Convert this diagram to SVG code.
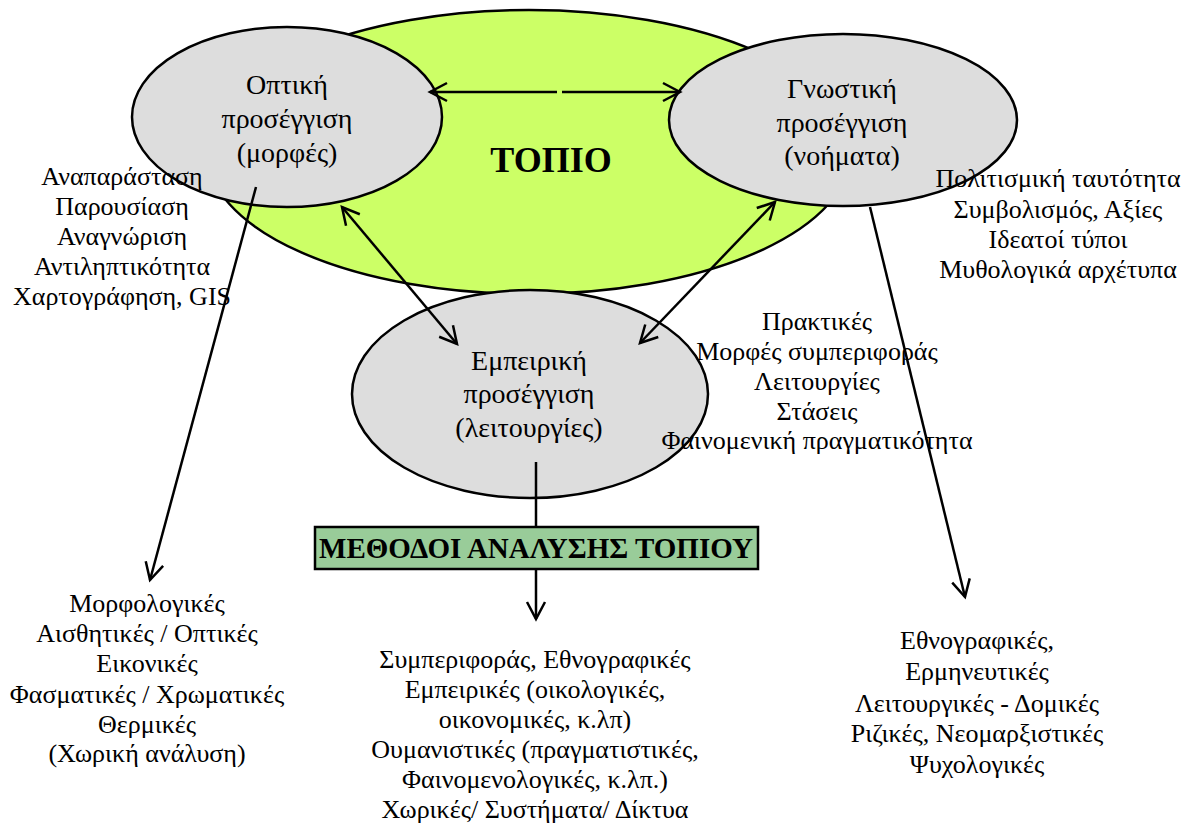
<svg xmlns="http://www.w3.org/2000/svg" width="1199" height="825" viewBox="0 0 1199 825">
<style>
text{font-family:'Liberation Serif','DejaVu Serif',serif;fill:#000;text-anchor:middle}
.t{font-size:28px}
.l{font-size:26px}
.b{font-weight:bold}
.el{fill:#DDDDDD;stroke:#000;stroke-width:2.5}
.c{fill:none;stroke:#000;stroke-width:2.5}
</style>
<defs>
<marker id="ah" markerUnits="userSpaceOnUse" markerWidth="24" markerHeight="24" viewBox="0 0 24 24" refX="20" refY="12" orient="auto-start-reverse">
<path d="M3,3 L20,12 L3,21" fill="none" stroke="#000" stroke-width="2.5"/>
</marker>
</defs>
<g id="topio">
<ellipse cx="529" cy="152" rx="322" ry="142" fill="#CCFF66" stroke="#000" stroke-width="2.5"/>
<text class="b" x="551" y="172" style="font-size:36px">ΤΟΠΙΟ</text>
</g>
<g id="optiki">
<ellipse class="el" cx="287" cy="117" rx="155" ry="90"/>
<text class="t" x="287" y="94">Οπτική</text>
<text class="t" x="287" y="128">προσέγγιση</text>
<text class="t" x="287" y="162">(μορφές)</text>
</g>
<g id="gnostiki">
<ellipse class="el" cx="843" cy="120" rx="174" ry="86"/>
<text class="t" x="842" y="98">Γνωστική</text>
<text class="t" x="842" y="132">προσέγγιση</text>
<text class="t" x="842" y="165">(νοήματα)</text>
</g>
<g id="empeiriki">
<ellipse class="el" cx="530" cy="394" rx="178" ry="104"/>
<text class="t" x="529" y="370">Εμπειρική</text>
<text class="t" x="529" y="403">προσέγγιση</text>
<text class="t" x="529" y="437">(λειτουργίες)</text>
</g>
<g id="methodoi">
<rect x="315" y="527" width="443" height="42" fill="#99CC99" stroke="#000" stroke-width="2.5"/>
<text class="b" x="536" y="558" style="font-size:29px">ΜΕΘΟΔΟΙ ΑΝΑΛΥΣΗΣ ΤΟΠΙΟΥ</text>
</g>
<g id="connectors">
<line class="c" x1="557" y1="92" x2="430" y2="92" marker-end="url(#ah)"/>
<line class="c" x1="562" y1="92" x2="680" y2="92" marker-end="url(#ah)"/>
<line class="c" x1="342" y1="207" x2="457" y2="344" marker-start="url(#ah)" marker-end="url(#ah)"/>
<line class="c" x1="775" y1="202" x2="640" y2="343" marker-start="url(#ah)" marker-end="url(#ah)"/>
<line class="c" x1="256" y1="187" x2="150" y2="580" marker-end="url(#ah)"/>
<line class="c" x1="870" y1="207" x2="965" y2="597" marker-end="url(#ah)"/>
<line class="c" x1="536" y1="462" x2="536" y2="527"/>
<line class="c" x1="536" y1="569" x2="536" y2="619" marker-end="url(#ah)"/>
</g>
<g id="optiki-list">
<text class="l" x="122" y="185">Αναπαράσταση</text>
<text class="l" x="122" y="215">Παρουσίαση</text>
<text class="l" x="122" y="245">Αναγνώριση</text>
<text class="l" x="122" y="275">Αντιληπτικότητα</text>
<text class="l" x="122" y="305">Χαρτογράφηση, GIS</text>
</g>
<g id="gnostiki-list">
<text class="l" x="1058" y="187">Πολιτισμική ταυτότητα</text>
<text class="l" x="1058" y="218">Συμβολισμός, Αξίες</text>
<text class="l" x="1058" y="248">Ιδεατοί τύποι</text>
<text class="l" x="1058" y="278">Μυθολογικά αρχέτυπα</text>
</g>
<g id="empeiriki-list">
<text class="l" x="817" y="330">Πρακτικές</text>
<text class="l" x="817" y="360">Μορφές συμπεριφοράς</text>
<text class="l" x="817" y="390">Λειτουργίες</text>
<text class="l" x="817" y="420">Στάσεις</text>
<text class="l" x="817" y="449">Φαινομενική πραγματικότητα</text>
</g>
<g id="methods-optiki">
<text class="l" x="147" y="612">Μορφολογικές</text>
<text class="l" x="147" y="642">Αισθητικές / Οπτικές</text>
<text class="l" x="147" y="672">Εικονικές</text>
<text class="l" x="147" y="703">Φασματικές / Χρωματικές</text>
<text class="l" x="147" y="733">Θερμικές</text>
<text class="l" x="147" y="762">(Χωρική ανάλυση)</text>
</g>
<g id="methods-empeiriki">
<text class="l" x="535" y="668">Συμπεριφοράς, Εθνογραφικές</text>
<text class="l" x="535" y="698">Εμπειρικές (οικολογικές,</text>
<text class="l" x="535" y="728">οικονομικές, κ.λπ)</text>
<text class="l" x="535" y="758">Ουμανιστικές (πραγματιστικές,</text>
<text class="l" x="535" y="788">Φαινομενολογικές, κ.λπ.)</text>
<text class="l" x="535" y="818">Χωρικές/ Συστήματα/ Δίκτυα</text>
</g>
<g id="methods-gnostiki">
<text class="l" x="977" y="649">Εθνογραφικές,</text>
<text class="l" x="977" y="680">Ερμηνευτικές</text>
<text class="l" x="977" y="712">Λειτουργικές - Δομικές</text>
<text class="l" x="977" y="742">Ριζικές, Νεομαρξιστικές</text>
<text class="l" x="977" y="773">Ψυχολογικές</text>
</g>
</svg>
